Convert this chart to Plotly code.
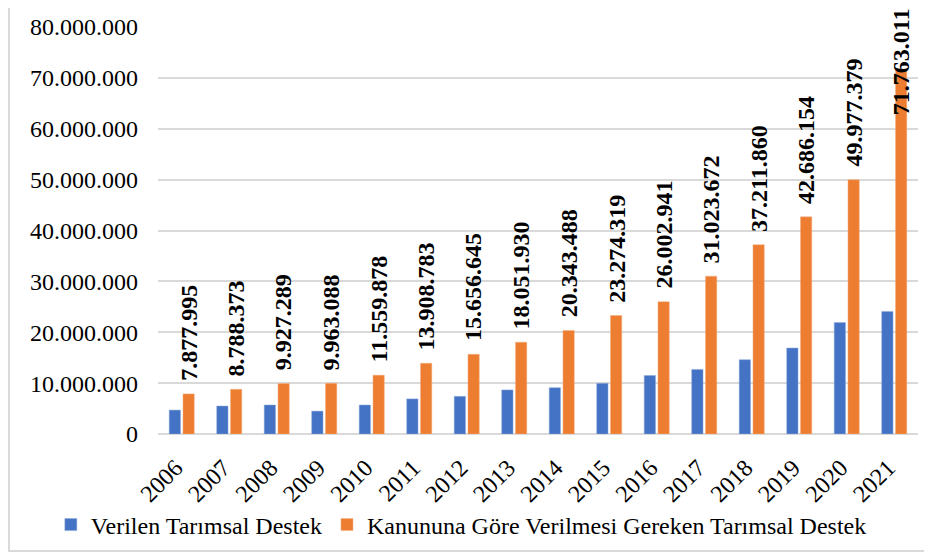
import plotly.graph_objects as go

# Years and the two support series (TL)
years = [str(y) for y in range(2006, 2022)]
verilen = [4700000, 5500000, 5700000, 4500000, 5700000, 6900000, 7400000, 8660000,
           9100000, 9960000, 11500000, 12700000, 14600000, 16900000, 21900000, 24100000]
kanunen = [7877995, 8788373, 9927289, 9963088, 11559878, 13908783, 15656645, 18051930,
           20343488, 23274319, 26002941, 31023672, 37211860, 42686154, 49977379, 71763011]

y_ticks = list(range(0, 80000001, 10000000))
y_tick_text = ["{:,}".format(v).replace(",", ".") for v in y_ticks]

serif = "Liberation Serif"

fig = go.Figure()

fig.add_trace(go.Bar(
    x=years, y=verilen, name="Verilen Tarımsal Destek",
    marker=dict(color="#4472c4", line=dict(color="#8faadc", width=0.5)),
))
fig.add_trace(go.Bar(
    x=years, y=kanunen, name="Kanununa Göre Verilmesi Gereken Tarımsal Destek",
    marker=dict(color="#ed7d31", line=dict(color="#f4b183", width=0.5)),
))

# Value labels above the orange bars (last one pushed down like Excel does)
# category axis -> annotation x is the category index
for i, v in enumerate(kanunen):
    last = i == len(kanunen) - 1
    fig.add_annotation(
        x=i, y=v, text="<b>" + "{:,}".format(v).replace(",", ".") + "</b>",
        textangle=-90, showarrow=False, xshift=7,
        yanchor="middle" if last else "bottom", yshift=7 if last else 11,
        font=dict(family=serif, size=24, color="black"),
    )

# Light gray chart border (only left/bottom visible in the crop)
fig.add_shape(type="rect", xref="paper", yref="paper",
              x0=-0.196, x1=1.05, y0=-0.2875, y1=1.2,
              line=dict(color="#d9d9d9", width=2), layer="below")

fig.update_layout(
    width=924, height=545,
    margin=dict(l=150, r=14, t=19, b=119, autoexpand=False),
    paper_bgcolor="white", plot_bgcolor="white",
    barmode="group", bargap=0.42, bargroupgap=0.18,
    font=dict(family=serif, size=24, color="black"),
    legend=dict(orientation="h", x=-0.141, xanchor="left",
                y=-0.2236, yanchor="middle", bgcolor="rgba(0,0,0,0)"),
    xaxis=dict(type="category", range=[-0.5, 15.5], autorange=False, tickangle=-45,
               showgrid=False, showline=False, ticks="", automargin=False,
               ticklabelstandoff=14, ticklabelshift=-6),
    yaxis=dict(range=[0, 80000000], autorange=False, tickvals=y_ticks, ticktext=y_tick_text,
               gridcolor="#d9d9d9", gridwidth=1.5, zeroline=True, zerolinecolor="#d9d9d9",
               zerolinewidth=2, ticks="", ticklabelstandoff=19, automargin=False),
)

fig.write_html("out.html")
